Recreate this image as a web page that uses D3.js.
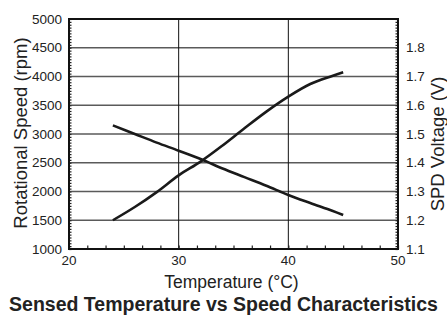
<!DOCTYPE html>
<html>
<head>
<meta charset="utf-8">
<script src="https://cdn.jsdelivr.net/npm/d3@7"></script>
<style>
  body { margin: 0; background: #fff; }
  text { font-family: "Liberation Sans", Arial, Helvetica, sans-serif; fill: #222; }
</style>
</head>
<body>
<div id="viz"></div>
<script>
// readings
var temps   = [24, 26, 28, 30, 32, 34, 36, 38, 40, 42, 44, 45];
var speed   = [1500, 1730, 1990, 2280, 2520, 2800, 3100, 3390, 3650, 3870, 4010, 4075];
var voltage = [1.53, 1.50, 1.47, 1.442, 1.413, 1.38, 1.35, 1.32, 1.288, 1.26, 1.233, 1.218];

var xTicks = [20, 30, 40, 50],
    speedTicks = [1000, 1500, 2000, 2500, 3000, 3500, 4000, 4500, 5000],
    voltTicks = [1.1, 1.2, 1.3, 1.4, 1.5, 1.6, 1.7, 1.8];

var W = 447, H = 318,
    margin = { top: 19, right: 49, bottom: 69, left: 69 },
    width = W - margin.left - margin.right,
    height = H - margin.top - margin.bottom;

var svg = d3.select('#viz').append('svg')
  .attr('width', W)
  .attr('height', H);

var g = svg.append('g')
  .attr('transform', 'translate(' + margin.left + ',' + margin.top + ')');

var xScale = d3.scaleLinear().domain([20, 50]).range([0, width]);
var ySpeed = d3.scaleLinear().domain([1000, 5000]).range([height, 0]);
var yVolt  = d3.scaleLinear().domain([1.1, 1.9]).range([height, 0]);

// grid
g.selectAll('.hgrid').data(speedTicks.slice(1, -1))
  .enter().append('line')
    .attr('x1', 0).attr('x2', width)
    .attr('y1', function(d) { return ySpeed(d); })
    .attr('y2', function(d) { return ySpeed(d); })
    .attr('stroke', '#5a5a5a')
    .attr('stroke-width', 1.4);

g.selectAll('.vgrid').data(xTicks.slice(1, -1))
  .enter().append('line')
    .attr('x1', function(d) { return xScale(d); })
    .attr('x2', function(d) { return xScale(d); })
    .attr('y1', 0).attr('y2', height)
    .attr('stroke', '#111')
    .attr('stroke-width', 1);

// minor ticks pointing inward
var leftAxis = d3.axisRight(ySpeed).tickValues(d3.range(1000, 5001, 50))
  .tickSize(2.5).tickFormat('');
g.append('g').call(leftAxis);

var rightAxis = d3.axisLeft(yVolt).tickValues(d3.range(0, 81).map(function(i) { return 1.1 + i * 0.01; }))
  .tickSize(2.5).tickFormat('');
g.append('g').attr('transform', 'translate(' + width + ',0)').call(rightAxis);

var bottomAxis = d3.axisTop(xScale).tickValues(d3.range(0, 19).map(function(i) { return 20 + i * 10 / 6; }))
  .tickSize(3.5).tickFormat('');
g.append('g').attr('transform', 'translate(0,' + height + ')').call(bottomAxis);

g.selectAll('.domain').remove();
g.selectAll('.tick line').attr('stroke', '#222').attr('stroke-width', 1.2);

// frame
g.append('rect')
  .attr('width', width).attr('height', height)
  .attr('fill', 'none')
  .attr('stroke', '#111')
  .attr('stroke-width', 2);

// tick labels
g.selectAll('.ylab').data(speedTicks)
  .enter().append('text')
    .attr('x', -7)
    .attr('y', function(d) { return ySpeed(d); })
    .attr('dy', '0.35em')
    .attr('text-anchor', 'end')
    .style('font-size', '13.5px')
    .text(function(d) { return d; });

g.selectAll('.vlab').data(voltTicks)
  .enter().append('text')
    .attr('x', width + 8)
    .attr('y', function(d) { return yVolt(d); })
    .attr('dy', '0.35em')
    .style('font-size', '13.5px')
    .text(function(d) { return d.toFixed(1); });

g.selectAll('.xlab').data(xTicks)
  .enter().append('text')
    .attr('x', function(d) { return xScale(d); })
    .attr('y', height + 16)
    .attr('text-anchor', 'middle')
    .style('font-size', '13.5px')
    .text(function(d) { return d; });

// curves
var speedLine = d3.line()
  .x(function(d, i) { return xScale(temps[i]); })
  .y(function(d) { return ySpeed(d); })
  .curve(d3.curveCatmullRom.alpha(0.5));

var voltLine = d3.line()
  .x(function(d, i) { return xScale(temps[i]); })
  .y(function(d) { return yVolt(d); })
  .curve(d3.curveCatmullRom.alpha(0.5));

g.append('path').datum(speed)
  .attr('d', speedLine)
  .attr('fill', 'none')
  .attr('stroke', '#1a1a1a')
  .attr('stroke-width', 2.6);

g.append('path').datum(voltage)
  .attr('d', voltLine)
  .attr('fill', 'none')
  .attr('stroke', '#1a1a1a')
  .attr('stroke-width', 2.6);

// axis titles
svg.append('text')
  .attr('transform', 'translate(27,' + (margin.top + height / 2 - 1) + ') rotate(-90)')
  .attr('text-anchor', 'middle')
  .style('font-size', '18.5px')
  .text('Rotational Speed (rpm)');

svg.append('text')
  .attr('transform', 'translate(444,' + (margin.top + height / 2 + 10) + ') rotate(-90)')
  .attr('text-anchor', 'middle')
  .style('font-size', '18.5px')
  .text('SPD Voltage (V)');

svg.append('text')
  .attr('x', margin.left + width / 2 - 2)
  .attr('y', 288)
  .attr('text-anchor', 'middle')
  .style('font-size', '17.5px')
  .text('Temperature (°C)');

svg.append('text')
  .attr('x', W / 2)
  .attr('y', 311)
  .attr('text-anchor', 'middle')
  .style('font-size', '19.5px')
  .style('font-weight', 'bold')
  .text('Sensed Temperature vs Speed Characteristics');
</script>
</body>
</html>
